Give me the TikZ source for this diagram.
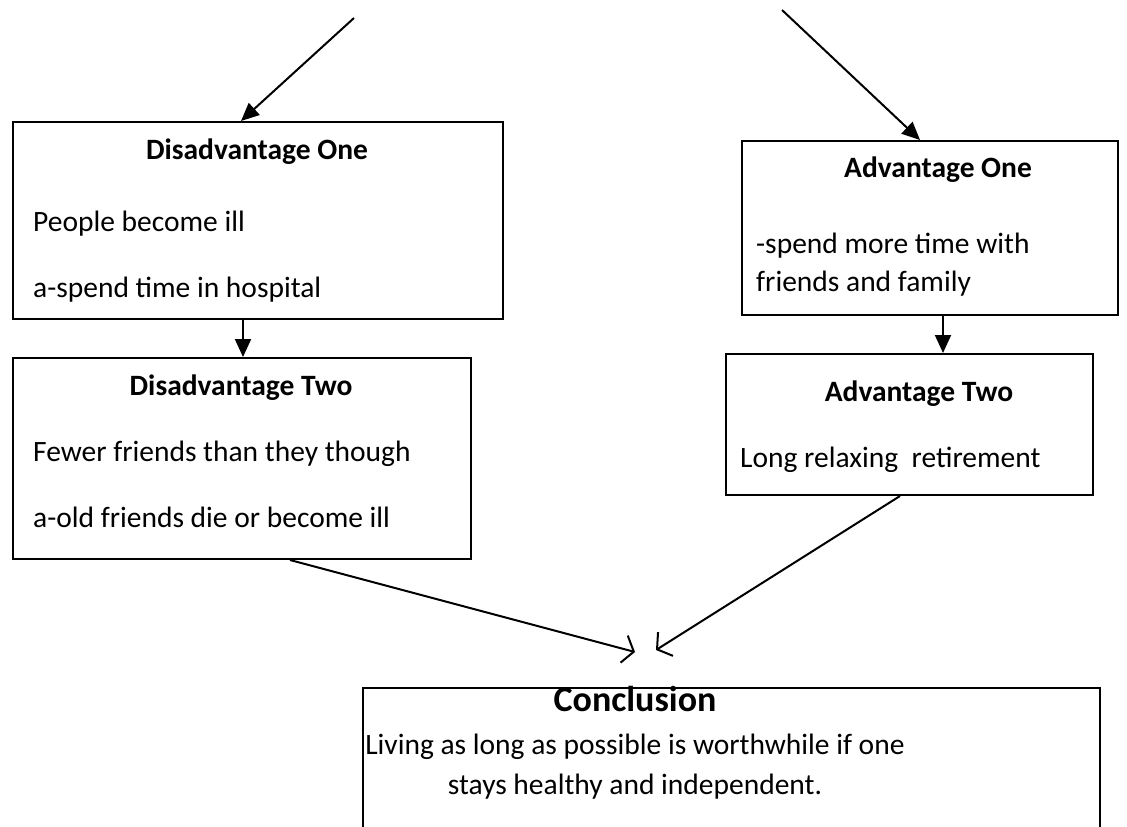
\documentclass[tikz,border=0pt]{standalone}
\usepackage{fontspec}
\setmainfont{Carlito}
\usetikzlibrary{arrows.meta}
\begin{document}
\begin{tikzpicture}[x=1pt,y=-1pt,
  box/.style={draw,line width=2pt,rectangle,inner sep=0pt,anchor=north west},
  txt/.style={font=\fontsize{29.5}{34}\selectfont,inner sep=0pt},
  ttl/.style={font=\fontsize{29.5}{34}\selectfont\bfseries,inner sep=0pt,anchor=base},
  farrow/.style={line width=2pt,-{Triangle[length=18pt,width=16pt]}},
  oarrow/.style={line width=2pt,-{Straight Barb[length=10pt,width=28pt,line width=2pt]}}]
\useasboundingbox (0,0) rectangle (1127,827);
\clip (0,0) rectangle (1127,827);
\fill[white] (0,0) rectangle (1127,827);
% boxes
\node[box,minimum width=490pt,minimum height=197pt] (d1) at (12,121) {};
\node[box,minimum width=458pt,minimum height=201pt] (d2) at (12,357) {};
\node[box,minimum width=376pt,minimum height=174pt] (a1) at (741,140) {};
\node[box,minimum width=367pt,minimum height=141pt] (a2) at (725,353) {};
\node[box,minimum width=737pt,minimum height=180pt] (c) at (362,687) {};
% texts
\node[ttl] (d1t) at (257,159) {Disadvantage One};
\node[txt,anchor=base west] (d1a) at (33,231) {People become ill};
\node[txt,anchor=base west] (d1b) at (33,297) {a-spend time in hospital};
\node[ttl] (d2t) at (241,395) {Disadvantage Two};
\node[txt,anchor=base west] (d2a) at (33,461) {Fewer friends than they though};
\node[txt,anchor=base west] (d2b) at (33,527) {a-old friends die or become ill};
\node[ttl] (a1t) at (938,177) {Advantage One};
\node[txt,anchor=base west] (a1a) at (756,253) {-spend more time with};
\node[txt,anchor=base west] (a1b) at (756,291) {friends and family};
\node[ttl] (a2t) at (919,401) {Advantage Two};
\node[txt,anchor=base west] (a2a) at (740,467) {Long relaxing\ \ retirement};
\node[inner sep=0pt,anchor=base,font=\fontsize{36}{40}\selectfont\bfseries] (ct) at (635,711) {Conclusion};
\node[txt,anchor=base] (ca) at (635,754) {Living as long as possible is worthwhile if one};
\node[txt,anchor=base] (cb) at (635,794) {stays healthy and independent.};
% connectors
\coordinate (s1) at (354,18);
\coordinate (s2) at (782,10);
\coordinate (t1) at (635,652);
\coordinate (t2) at (656,650);
\coordinate (e1) at (241,121);
\coordinate (e2) at (920,140);
\coordinate (f1) at (290,560);
\coordinate (f2) at (900,496);
\draw[farrow] (s1) -- (e1);
\draw[farrow] (s2) -- (e2);
\draw[farrow] (d1.south -| 243,0) -- (d2.north -| 243,0);
\draw[farrow] (a1.south -| 943,0) -- (a2.north -| 943,0);
\draw[oarrow] (f1) -- (t1);
\draw[oarrow] (f2) -- (t2);
\end{tikzpicture}
\end{document}
